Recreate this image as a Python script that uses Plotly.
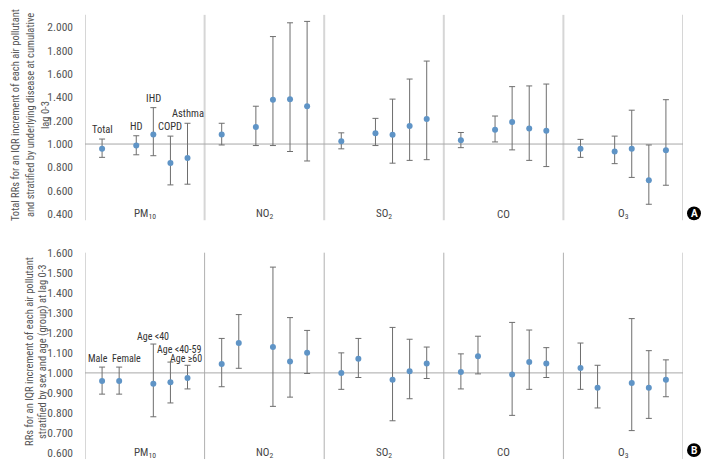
import plotly.graph_objects as go

# 污染物分组
pollutants = ['PM<sub>10</sub>', 'NO<sub>2</sub>', 'SO<sub>2</sub>', 'CO', 'O<sub>3</sub>']

# A: 按基础疾病分层 (Total, HD, IHD, COPD, Asthma)
top_labels = ['Total', 'HD', 'IHD', 'COPD', 'Asthma']
top_slots = [1, 3, 4, 5, 6]
top_rr = [0.959, 0.987, 1.082, 0.838, 0.880,
          1.082, 1.147, 1.380, 1.383, 1.324,
          1.023, 1.093, 1.079, 1.155, 1.214,
          1.032, 1.122, 1.189, 1.133, 1.113,
          0.959, 0.936, 0.959, 0.689, 0.947]
top_upper = [1.043, 1.071, 1.312, 1.068, 1.178,
             1.178, 1.324, 1.921, 2.039, 2.051,
             1.096, 1.220, 1.385, 1.557, 1.711,
             1.099, 1.240, 1.492, 1.498, 1.514,
             1.040, 1.068, 1.290, 0.992, 1.380]
top_lower = [0.886, 0.908, 0.900, 0.650, 0.656,
             0.992, 0.987, 0.987, 0.936, 0.855,
             0.959, 0.987, 0.836, 0.860, 0.866,
             0.969, 1.018, 0.950, 0.860, 0.807,
             0.886, 0.832, 0.714, 0.484, 0.647]

# B: 按性别和年龄分层
bot_labels = ['Male', 'Female', 'Age <40', 'Age <40-59', 'Age \u226560']
bot_slots = [1, 2, 4, 5, 6]
bot_rr = [0.959, 0.959, 0.946, 0.953, 0.975,
          1.044, 1.149, 1.129, 1.057, 1.100,
          1.000, 1.070, 0.966, 1.008, 1.047,
          1.005, 1.083, 0.992, 1.054, 1.047,
          1.025, 0.926, 0.949, 0.926, 0.966]
bot_upper = [1.029, 1.029, 1.144, 1.054, 1.038,
             1.172, 1.291, 1.528, 1.276, 1.212,
             1.100, 1.172, 1.227, 1.168, 1.129,
             1.095, 1.183, 1.252, 1.214, 1.126,
             1.149, 1.038, 1.271, 1.111, 1.065]
bot_lower = [0.894, 0.894, 0.781, 0.850, 0.920,
             0.931, 1.023, 0.833, 0.879, 0.997,
             0.918, 0.977, 0.761, 0.871, 0.972,
             0.920, 0.995, 0.788, 0.918, 0.977,
             0.918, 0.825, 0.712, 0.773, 0.881]

# y 轴标题 (逐行)
top_title = ['Total RRs for an IQR increment of each air pollutant',
             'and stratified by underlying disease at cumulative',
             'lag 0-3']
bot_title = ['RRs for an IQR increment of each air pollutant',
             'stratified by sex and age (group) at lag 0-3']

GROUP_W = 7
BASELINE = 1.0
W, H = 706, 463
FONT = 'Roboto Condensed, DejaVu Sans Condensed, sans-serif'
BLUE = '#5f94c6'


def px_x(p):
    return p / W


def px_y(p):
    return 1 - p / H


def xs(slots):
    return [g * GROUP_W + s for g in range(len(pollutants)) for s in slots]


fig = go.Figure()

panels = [
    dict(ax='', slots=top_slots, rr=top_rr, up=top_upper, lo=top_lower),
    dict(ax='2', slots=bot_slots, rr=bot_rr, up=bot_upper, lo=bot_lower),
]
for p in panels:
    x = xs(p['slots'])
    fig.add_trace(go.Scatter(
        x=x, y=p['rr'], mode='markers', xaxis='x' + p['ax'], yaxis='y' + p['ax'],
        marker=dict(color=BLUE, size=6),
        error_y=dict(type='data', symmetric=False,
                     array=[u - r for u, r in zip(p['up'], p['rr'])],
                     arrayminus=[r - l for r, l in zip(p['rr'], p['lo'])],
                     color='#6e6e6e', thickness=1, width=3),
        showlegend=False, hoverinfo='skip'))

shapes = []
annotations = []
for ax, width, col in [('', 2, '#d6d6d6'), ('2', 1, '#b0b0b0')]:
    for g in range(len(pollutants) + 1):
        shapes.append(dict(type='line', xref='x' + ax, yref='y' + ax + ' domain',
                           x0=g * GROUP_W, x1=g * GROUP_W, y0=0, y1=1,
                           line=dict(color=col, width=width), layer='below'))
    shapes.append(dict(type='line', xref='x' + ax, yref='y' + ax,
                       x0=0, x1=len(pollutants) * GROUP_W, y0=BASELINE, y1=BASELINE,
                       line=dict(color='#a8a8a8', width=1), layer='below'))
    for g, name in enumerate(pollutants):
        annotations.append(dict(xref='x' + ax, yref='y' + ax + ' domain',
                                x=g * GROUP_W + GROUP_W / 2, y=0.03, yanchor='middle',
                                text=name, showarrow=False,
                                font=dict(family=FONT, size=11, color='#444444')))

# 组内标签 (只在 PM10 组)
for i, t in enumerate(top_labels):
    annotations.append(dict(xref='x', yref='y', x=top_slots[i], y=top_upper[i],
                            yanchor='bottom', yshift=1, text=t, showarrow=False,
                            font=dict(family=FONT, size=10.5, color='#333333')))
bot_nudge = [(-4, 1), (7, 1), (0, 0), (9, 5), (-2, -1)]
for i, t in enumerate(bot_labels):
    annotations.append(dict(xref='x2', yref='y2', x=bot_slots[i], y=bot_upper[i],
                            yanchor='bottom', xshift=bot_nudge[i][0], yshift=bot_nudge[i][1],
                            text=t, showarrow=False,
                            font=dict(family=FONT, size=10, color='#333333')))

for lines, xpos, ymid in [(top_title, [15, 30, 45], 110), (bot_title, [30, 43], 351)]:
    for t, xp in zip(lines, xpos):
        annotations.append(dict(xref='paper', yref='paper', x=px_x(xp), y=px_y(ymid),
                                xanchor='center', yanchor='middle', text=t,
                                textangle=-90, showarrow=False,
                                font=dict(family=FONT, size=10.5, color='#555555')))

# 面板字母
for letter, cy in [('A', 210), ('B', 451)]:
    shapes.append(dict(type='circle', xref='paper', yref='paper',
                       x0=px_x(687), x1=px_x(701), y0=px_y(cy + 7), y1=px_y(cy - 7),
                       fillcolor='black', line=dict(color='black', width=0)))
    annotations.append(dict(xref='paper', yref='paper', x=px_x(694), y=px_y(cy),
                            xanchor='center', yanchor='middle',
                            text='<b>' + letter + '</b>', showarrow=False,
                            font=dict(family='Roboto', size=10, color='white')))

xdom = [px_x(85), px_x(683)]
xcommon = dict(range=[0, len(pollutants) * GROUP_W], showgrid=False, zeroline=False,
               showticklabels=False, showline=False, fixedrange=True)
ycommon = dict(showgrid=False, zeroline=False, showline=False, tickformat='.3f',
               ticks='', ticklabelstandoff=11,
               tickfont=dict(family=FONT, size=11.5, color='#555555'))

fig.update_layout(
    width=W, height=H,
    margin=dict(l=0, r=0, t=0, b=0),
    plot_bgcolor='white', paper_bgcolor='white',
    xaxis=dict(domain=xdom, anchor='y', **xcommon),
    yaxis=dict(domain=[px_y(217), px_y(8)], range=[0.347, 2.107], dtick=0.2, tick0=0.4,
               anchor='x', **ycommon),
    xaxis2=dict(domain=xdom, anchor='y2', **xcommon),
    yaxis2=dict(domain=[px_y(460), px_y(250)], range=[0.57, 1.6], dtick=0.1, tick0=0.6,
                anchor='x2', **ycommon),
    shapes=shapes,
    annotations=annotations,
)

fig.write_html('out.html', config={'displayModeBar': False},
               post_script="document.body.style.margin='0';")
